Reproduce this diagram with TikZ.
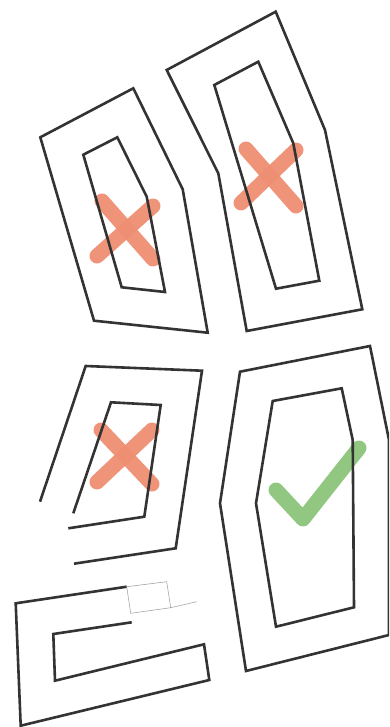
\documentclass[tikz,border=0pt]{standalone}
\usepackage{xcolor}
\usepackage{tikz}

\definecolor{wallgray}{HTML}{333333}
\definecolor{crossred}{HTML}{EE8E72}
\definecolor{checkgreen}{HTML}{8CC47A}

\begin{document}
\begin{tikzpicture}[
  x=1pt, y=-1pt,
  wall/.style={
    draw=wallgray,
    line width=2.6pt,
    line join=miter
  },
  guide/.style={
    draw=gray!70,
    line width=0.6pt
  },
  crossmark/.style={
    draw=crossred,
    line width=15pt,
    line cap=round,
    opacity=0.95
  },
  checkmark/.style={
    draw=checkgreen,
    line width=15pt,
    line cap=round,
    line join=round,
    opacity=0.95
  }
]
  \useasboundingbox (0,0) rectangle (389,727);
  \clip (0,0) rectangle (389,727);

  % marks first, walls drawn on top
  \draw[crossmark] (97,256) -- (153,206);
  \draw[crossmark] (102,201) -- (153,259);

  \draw[crossmark] (241,203) -- (296,150);
  \draw[crossmark] (246,149) -- (296,206);

  \draw[crossmark] (97,482) -- (152,430);
  \draw[crossmark] (101,430) -- (152,484);

  \draw[checkmark] (276,490) -- (303,519) -- (359,448);

  % top left room
  \draw[wall] (40.3,137.3) -- (133.3,88.3) -- (182.7,189.3) -- (207.7,332.7)
    -- (94,320.7) -- cycle;
  \draw[wall] (83.3,154.7) -- (117.3,137.3) -- (146.7,196.7) -- (165,292)
    -- (121.7,287.3) -- cycle;

  % top right room
  \draw[wall] (166.7,70) -- (275.7,11.7) -- (325,130) -- (362.3,309.3)
    -- (246.7,331) -- (218.3,173.3) -- cycle;
  \draw[wall] (214.3,85) -- (258.3,61.7) -- (293.3,143.3) -- (319.3,280.7)
    -- (276,288.7) -- cycle;

  % lower left room, open at the entrance
  \draw[wall] (40,501.7) -- (85.7,366) -- (202,370.7) -- (175.7,548.3)
    -- (74,563.7);
  \draw[wall] (73.3,513.3) -- (111,402.3) -- (160.7,405) -- (144.3,516.7)
    -- (68.3,528.3);

  % corridor
  \draw[wall] (126.7,586.7) -- (15.7,603.3) -- (20.7,725.7) -- (209.3,680)
    -- (204,644.3) -- (55,680.7) -- (53.3,634) -- (131.7,622.3);
  \draw[guide] (126.7,586.7) -- (166.7,581.7) -- (170.7,607.7)
    -- (130.7,613.3) -- cycle;
  \draw[guide] (170.7,607.7) -- (196.7,601.7);

  % lower right room
  \draw[wall] (240,371.7) -- (370,346) -- (389,440) -- (389,635)
    -- (246,671) -- (220,503.3) -- cycle;
  \draw[wall] (272.7,401) -- (341.7,388.3) -- (352.7,440) -- (354,607.3)
    -- (276,626.7) -- (256,503.3) -- cycle;
\end{tikzpicture}
\end{document}
